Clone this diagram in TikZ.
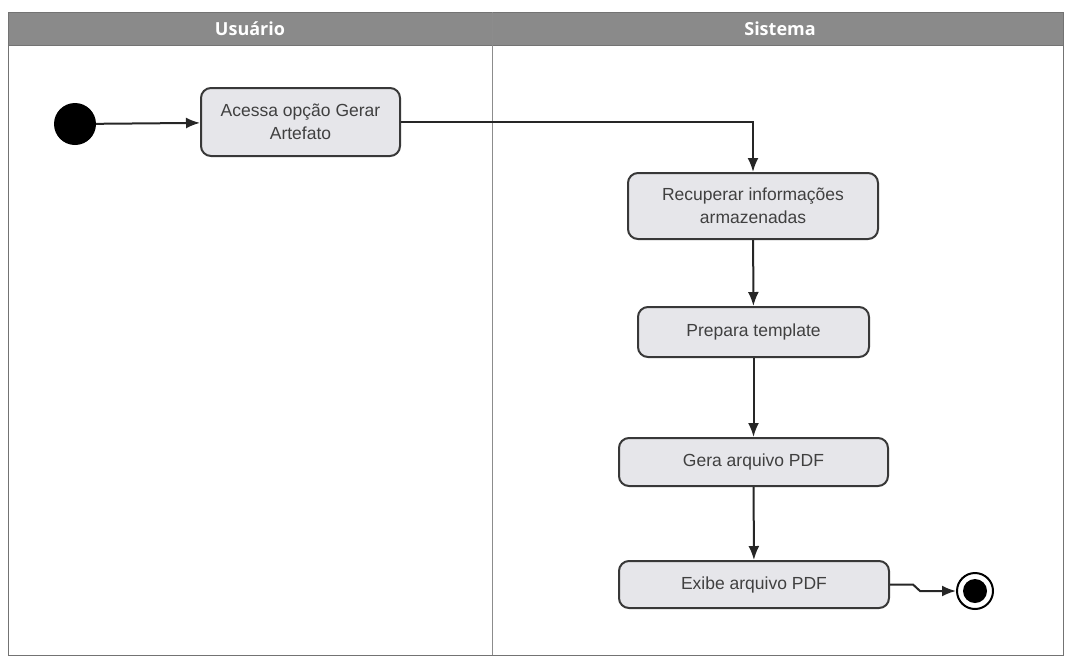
\documentclass[tikz,border=0pt]{standalone}
\usepackage{fontspec}
\setmainfont{Liberation Sans}
\newfontfamily\headfont{Open Sans}
\usetikzlibrary{arrows.meta,positioning}
\definecolor{lanehead}{HTML}{8A8A8A}
\definecolor{actfill}{HTML}{E6E6EA}
\definecolor{actline}{HTML}{383838}
\tikzset{
  act/.style={draw=actline, line width=2pt, fill=actfill, rounded corners=10pt,
    align=center, font=\fontsize{17.5}{23}\selectfont, text=black!75, inner sep=0pt},
  flow/.style={draw=black!85, line width=2pt, -{Latex[length=14pt,width=11pt]}},
  lanetitle/.style={text=white, font=\headfont\bfseries\fontsize{18}{20}\selectfont},
}
\begin{document}
\begin{tikzpicture}[x=1pt,y=-1pt]
\useasboundingbox (0,0) rectangle (1065,657);
% swimlane frame and headers
\fill[lanehead] (8,12) rectangle (1063,45);
\draw[black!55, line width=1pt] (8,12) rectangle (1063,655);
\draw[black!55, line width=1pt] (8,45) -- (1063,45);
\draw[black!45, line width=1pt] (492,12) -- (492,655);
\node[lanetitle] (hu) at (250,29) {Usuário};
\node[lanetitle] (hs) at (780,29) {Sistema};
% start and final states
\node[circle, fill=black, minimum size=42pt, inner sep=0pt] (start) at (75,124) {};
\node[circle, draw=black, line width=2pt, fill=white, minimum size=36pt, inner sep=0pt] (final) at (975,591) {};
\node[circle, fill=black, minimum size=24pt, inner sep=0pt] (finalin) at (975,591) {};
% activities
\node[act, minimum width=199pt, minimum height=68pt] (a1) at (300.5,122) {Acessa opção Gerar\\Artefato};
\node[act, minimum width=250pt, minimum height=66pt] (a2) at (753,206) {Recuperar informações\\armazenadas};
\node[act, minimum width=231pt, minimum height=50pt] (a3) at (753.5,332) {Prepara template};
\node[act, minimum width=269pt, minimum height=48pt] (a4) at (753.5,462) {Gera arquivo PDF};
\node[act, minimum width=270pt, minimum height=47pt] (a5) at (754,584.5) {Exibe arquivo PDF};
% transitions
\draw[flow] (start) -- (a1);
\draw[flow] (a1.east) -- (a1.east -| a2.north) -- (a2.north);
\draw[flow] (a2) -- (a3);
\draw[flow] (a3) -- (a4);
\draw[flow] (a4) -- (a5);
\draw[flow] (a5.east) -- (913,584.5) -- (920,591) -- (final.west);
\end{tikzpicture}
\end{document}
